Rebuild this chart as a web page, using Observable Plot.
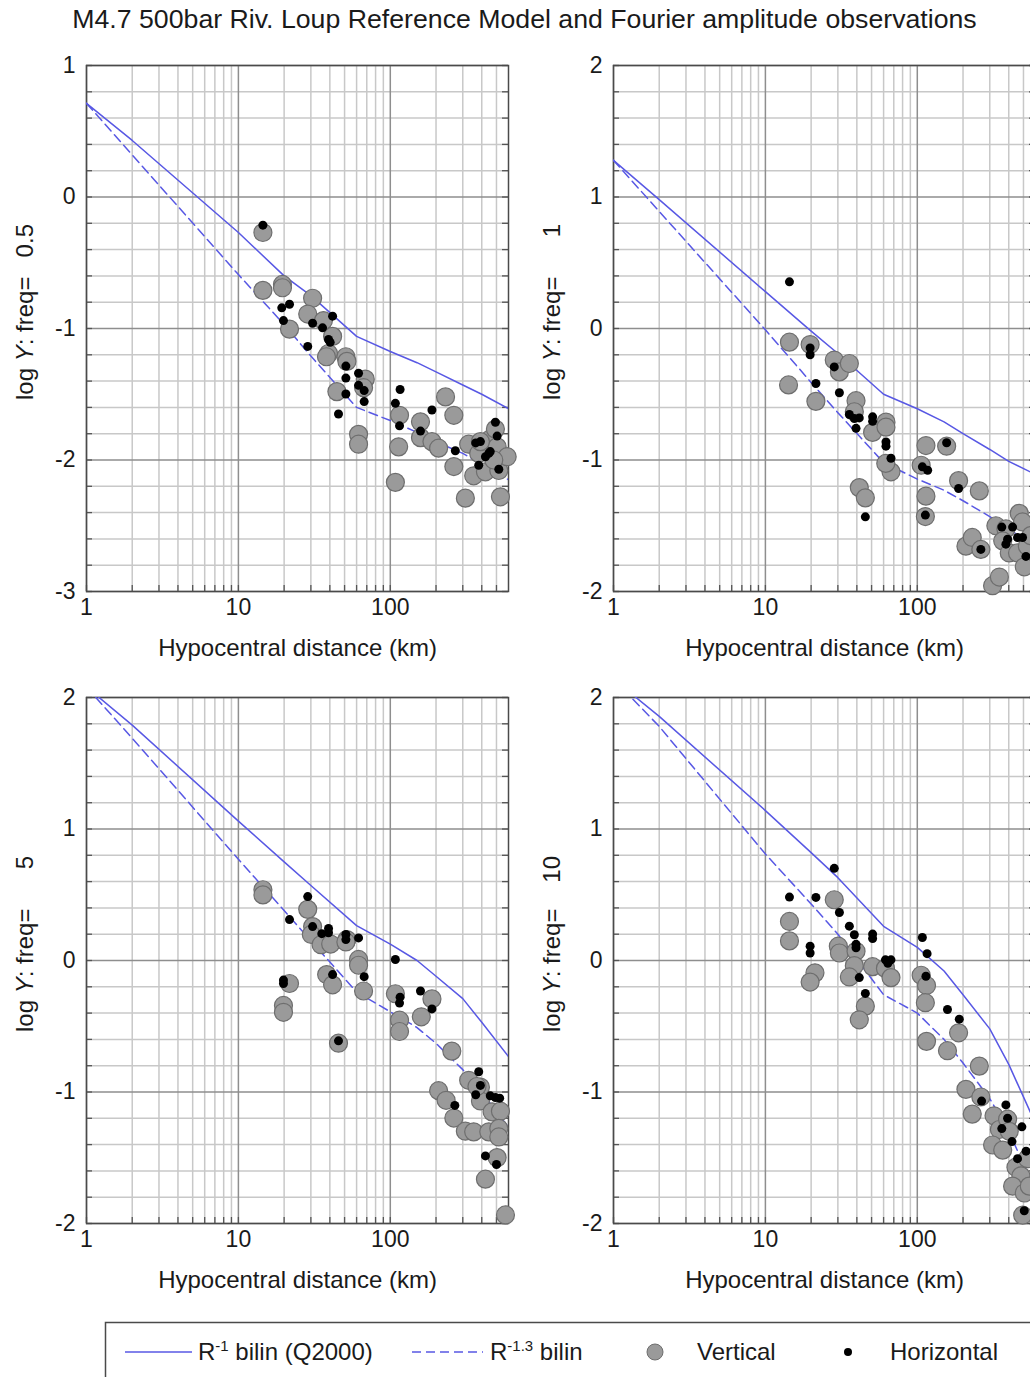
<!DOCTYPE html>
<html><head><meta charset="utf-8">
<script src="https://cdn.jsdelivr.net/npm/d3@7"></script>
<script src="https://cdn.jsdelivr.net/npm/@observablehq/plot@0.6"></script>
<style>
html,body{margin:0;padding:0;background:#fff;}
body{width:1030px;height:1377px;overflow:hidden;position:relative;font-family:"Liberation Sans",Arial,sans-serif;color:#1a1a1a;}
#title{position:absolute;left:0;width:1049px;top:4px;text-align:center;font-size:26.7px;white-space:nowrap;}
.panel{position:absolute;width:527px;height:621px;}
#legend{position:absolute;left:105px;top:1322px;}
</style></head><body>
<div id="title">M4.7 500bar Riv. Loup Reference Model and Fourier amplitude observations</div>
<div id="p1" class="panel" style="left:0;top:45px"></div>
<div id="p2" class="panel" style="left:527px;top:45px"></div>
<div id="p3" class="panel" style="left:0;top:677px"></div>
<div id="p4" class="panel" style="left:527px;top:677px"></div>
<div id="legend"></div>
<script>
// ---------- data ----------
const frequencyLabels = ["0.5", "1", "5", "10"];
const yDomains = [[-3, 1], [-2, 2], [-2, 2], [-2, 2]];
const xMajorTicks = [1, 10, 100];
const xMinorTicks = [2,3,4,5,6,7,8,9,20,30,40,50,60,70,80,90,200,300,400,500];

// model curves (distance km, log Y)
const modelDistance = [1, 2, 10, 20, 30, 60, 100, 150, 200, 300, 400, 600];
const solid_f05  = [0.712, 0.43, -0.27, -0.60, -0.75, -1.06, -1.175, -1.26, -1.33, -1.43, -1.50, -1.61];
const dashed_f05 = [0.712, 0.32, -0.59, -0.97, -1.21, -1.60, -1.70, -1.79, -1.86, -1.95, -2.03, -2.15];
const solid_f1   = [1.279, 0.98, 0.28, -0.02, -0.19, -0.50, -0.61, -0.71, -0.80, -0.92, -1.01, -1.11];
const dashed_f1  = [1.279, 0.89, -0.01, -0.41, -0.64, -1.02, -1.145, -1.23, -1.31, -1.43, -1.53, -1.64];
const solid_f5   = [2.08, 1.79, 1.06, 0.75, 0.57, 0.265, 0.125, 0.0, -0.12, -0.29, -0.47, -0.73];
const dashed_f5  = [2.08, 1.69, 0.77, 0.38, 0.15, -0.24, -0.39, -0.51, -0.63, -0.83, -1.0, -1.27];
const solid_f10  = [2.14, 1.856, 1.14, 0.82, 0.63, 0.26, 0.10, -0.08, -0.26, -0.52, -0.79, -1.24];
const dashed_f10 = [2.14, 1.78, 0.81, 0.43, 0.20, -0.26, -0.40, -0.60, -0.78, -1.05, -1.30, -1.75];

// observations [distance km, log Y]
const vertical_f05 = [[14.5,-0.27],[14.5,-0.71],[19.5,-0.665],[19.5,-0.69],[21.7,-1.005],[30.8,-0.77],[28.6,-0.89],[36.3,-0.94],[41.7,-1.06],[39.2,-1.19],[38,-1.215],[51,-1.215],[51.8,-1.25],[68.4,-1.385],[66.7,-1.45],[44.5,-1.48],[61.8,-1.805],[61.8,-1.88],[115,-1.66],[113.5,-1.90],[108,-2.17],[231,-1.52],[262,-1.66],[158,-1.71],[158,-1.83],[188,-1.86],[208,-1.91],[262,-2.05],[312,-2.29],[328,-1.88],[354,-2.12],[382,-1.95],[423,-2.09],[455,-1.84],[492,-1.765],[505,-1.90],[518,-2.08],[531,-2.28],[588,-1.975],[480,-2.0],[392,-1.86]];
const horizontal_f05 = [[14.5,-0.214],[19.3,-0.843],[21.7,-0.816],[19.8,-0.94],[28.6,-1.136],[30.8,-0.96],[35.8,-0.995],[41.7,-0.906],[39.2,-1.084],[40.2,-1.105],[51,-1.286],[51,-1.377],[51,-1.498],[45.6,-1.65],[61.8,-1.34],[61.8,-1.432],[67.3,-1.472],[67.3,-1.556],[116,-1.464],[108,-1.569],[115,-1.74],[188,-1.62],[158,-1.78],[268,-1.93],[365,-1.87],[392,-1.86],[423,-1.975],[455,-1.936],[492,-1.713],[505,-1.818],[382,-2.04],[518,-2.07],[445,-1.95]];
const vertical_f1 = [[14.4,-0.104],[14.2,-0.429],[19.7,-0.122],[21.5,-0.554],[28.4,-0.24],[30.7,-0.33],[35.7,-0.266],[39.5,-0.549],[38.5,-0.633],[50.8,-0.79],[62.2,-0.712],[62.2,-0.75],[67.1,-1.09],[62,-1.026],[41.5,-1.21],[45.5,-1.288],[114,-0.89],[106,-1.04],[114,-1.275],[113,-1.43],[156,-0.895],[187,-1.157],[256,-1.235],[209,-1.655],[230,-1.589],[262,-1.68],[313,-1.956],[347,-1.89],[329,-1.5],[383,-1.524],[365,-1.615],[403,-1.707],[469,-1.406],[493,-1.471],[457,-1.707],[506,-1.812],[530,-1.655],[560,-1.575]];
const horizontal_f1 = [[14.4,0.355],[19.7,-0.148],[19.7,-0.2],[21.5,-0.418],[28.4,-0.292],[30.7,-0.489],[35.7,-0.654],[38.5,-0.685],[41.5,-0.68],[39.5,-0.759],[50.8,-0.672],[50.8,-0.706],[62.2,-0.863],[62.2,-0.895],[67.1,-0.987],[45.5,-1.432],[108,-1.052],[117,-1.078],[113,-1.419],[156,-0.869],[187,-1.217],[262,-1.68],[360,-1.51],[424,-1.51],[393,-1.602],[383,-1.64],[457,-1.589],[493,-1.589],[519,-1.733]];
const vertical_f5 = [[14.5,0.538],[14.5,0.499],[28.6,0.389],[30.8,0.258],[30.2,0.198],[35,0.12],[40.5,0.125],[51.8,0.159],[51,0.141],[61.8,0.008],[61.8,-0.036],[38.1,-0.107],[41.7,-0.185],[21.7,-0.175],[19.8,-0.342],[19.8,-0.394],[45.6,-0.629],[66.7,-0.232],[108,-0.253],[115,-0.454],[115,-0.54],[160,-0.428],[188,-0.292],[254,-0.689],[208,-0.99],[233,-1.063],[262,-1.198],[312,-1.298],[354,-1.303],[328,-0.911],[392,-0.963],[392,-1.068],[468,-1.151],[531,-1.146],[445,-1.303],[518,-1.277],[518,-1.342],[505,-1.499],[423,-1.663],[573,-1.935],[372,-0.958]];
const horizontal_f5 = [[28.6,0.486],[21.7,0.311],[30.8,0.258],[35.4,0.204],[39.2,0.243],[39.2,0.211],[51,0.198],[51,0.159],[61.8,0.172],[19.8,-0.149],[19.8,-0.175],[41.7,-0.107],[67.3,-0.123],[45.6,-0.611],[108,0.008],[116,-0.279],[115,-0.324],[158,-0.232],[188,-0.368],[266,-1.102],[382,-0.846],[392,-0.95],[365,-1.021],[455,-1.029],[492,-1.042],[525,-1.047],[423,-1.486],[500,-1.551]];
const vertical_f10 = [[14.4,0.297],[14.4,0.149],[21.2,-0.094],[19.7,-0.164],[28.4,0.462],[30.2,0.109],[30.7,0.057],[39.5,0.07],[38.5,-0.039],[35.7,-0.125],[50.8,-0.047],[61.7,-0.06],[67.1,-0.13],[45.5,-0.347],[41.5,-0.451],[106,-0.112],[115,-0.19],[113,-0.321],[115,-0.615],[158,-0.686],[187,-0.55],[256,-0.803],[209,-0.98],[230,-1.168],[262,-1.038],[320,-1.181],[347,-1.285],[313,-1.403],[365,-1.442],[393,-1.207],[403,-1.299],[446,-1.572],[481,-1.638],[424,-1.716],[506,-1.768],[494,-1.937],[530,-1.507],[546,-1.716]];
const horizontal_f10 = [[14.4,0.482],[21.5,0.48],[28.4,0.701],[30.7,0.365],[35.7,0.261],[38.5,0.196],[39.5,0.123],[39.5,0.097],[19.7,0.109],[19.7,0.057],[50.8,0.201],[50.8,0.167],[61.7,0.005],[67.1,0.005],[64,-0.021],[41.5,-0.13],[45.5,-0.25],[108,0.175],[116,0.052],[114,-0.12],[158,-0.373],[189,-0.446],[265,-1.069],[383,-1.098],[393,-1.2],[360,-1.278],[420,-1.377],[488,-1.265],[520,-1.45],[457,-1.507],[506,-1.903]];

const solidCurves = [solid_f05, solid_f1, solid_f5, solid_f10];
const dashedCurves = [dashed_f05, dashed_f1, dashed_f5, dashed_f10];
const verticalObs = [vertical_f05, vertical_f1, vertical_f5, vertical_f10];
const horizontalObs = [horizontal_f05, horizontal_f1, horizontal_f5, horizontal_f10];

// ---------- drawing ----------
const BLUE = "#5858e4";
const FONT = "Liberation Sans, Arial, sans-serif";
const W = 527, H = 621, ML = 86, MR = 19, MT = 20, MB = 75;
const FW = W - ML - MR, FH = H - MT - MB;

function makePanel(i) {
  const [ylo, yhi] = yDomains[i];
  const yAll = d3.range(ylo, yhi + 1e-9, 0.2);
  const yMajor = d3.range(ylo, yhi + 1e-9, 1);
  const yMinor = yAll.filter(v => Math.abs(v - Math.round(v)) > 1e-6);
  const xAll = xMajorTicks.concat(xMinorTicks);
  const solid = modelDistance.map((r, k) => ({r, v: solidCurves[i][k]}));
  const dashed = modelDistance.map((r, k) => ({r, v: dashedCurves[i][k]}));

  const plot = Plot.plot({
    width: W, height: H, marginLeft: ML, marginRight: MR, marginTop: MT, marginBottom: MB,
    x: {type: "log", domain: [1, 600]},
    y: {domain: [ylo, yhi]},
    style: {fontFamily: FONT, fontSize: "23px", color: "#1a1a1a", background: "transparent", maxWidth: "none", overflow: "visible"},
    marks: [
      Plot.gridX(xMinorTicks, {stroke: "#c8c8c8", strokeOpacity: 1, strokeWidth: 1.5}),
      Plot.gridY(yMinor, {stroke: "#c8c8c8", strokeOpacity: 1, strokeWidth: 1.5}),
      Plot.gridX(xMajorTicks, {stroke: "#8e8e8e", strokeOpacity: 1, strokeWidth: 1.5}),
      Plot.gridY(yMajor, {stroke: "#8e8e8e", strokeOpacity: 1, strokeWidth: 1.5}),
      Plot.tickY(yAll, {y: d => d, stroke: "#555", strokeWidth: 1.3, insetRight: FW - 6}),
      Plot.tickY(yAll, {y: d => d, stroke: "#555", strokeWidth: 1.3, insetLeft: FW - 6}),
      Plot.tickX(xAll, {x: d => d, stroke: "#555", strokeWidth: 1.3, insetTop: FH - 6}),
      Plot.frame({stroke: "#4a4a4a", strokeWidth: 1.5}),
      Plot.axisY(yMajor, {tickSize: 0, tickPadding: 11, tickFormat: d => String(d), label: null, fontSize: 23}),
      Plot.axisX(xMajorTicks, {tickSize: 0, tickPadding: 7, tickFormat: d => String(d), label: null, fontSize: 23}),
      Plot.text(["Hypocentral distance (km)"], {frameAnchor: "bottom", dy: 57, lineAnchor: "middle", fontSize: 24, fill: "#1a1a1a"}),
      Plot.line(solid, {x: "r", y: "v", stroke: BLUE, strokeWidth: 1.5, clip: true}),
      Plot.line(dashed, {x: "r", y: "v", stroke: BLUE, strokeWidth: 1.5, strokeDasharray: "9,5", clip: true}),
      Plot.dot(verticalObs[i], {x: d => d[0], y: d => d[1], r: 9, fill: "#9a9a9a", stroke: "#6e6e6e", strokeWidth: 1.2}),
      Plot.dot(horizontalObs[i], {x: d => d[0], y: d => d[1], r: 4.5, fill: "#000", stroke: "none"})
    ]
  });
  const svg = d3.select(plot);
  const lab = svg.append("text")
    .attr("transform", `translate(33,${400 - 45}) rotate(-90)`)
    .attr("text-anchor", "start")
    .attr("font-family", FONT).attr("font-size", 24).attr("fill", "#1a1a1a");
  lab.append("tspan").text("log ");
  lab.append("tspan").attr("font-style", "italic").text("Y");
  lab.append("tspan").text(": freq=");
  svg.append("text")
    .attr("transform", `translate(33,${224 - 45}) rotate(-90)`)
    .attr("text-anchor", "end")
    .attr("font-family", FONT).attr("font-size", 24).attr("fill", "#1a1a1a")
    .text(frequencyLabels[i]);
  document.getElementById("p" + (i + 1)).appendChild(plot);
}
[0, 1, 2, 3].forEach(makePanel);

// ---------- legend ----------
const lg = d3.select("#legend").append("svg").attr("width", 1000).attr("height", 60)
  .style("overflow", "visible").attr("font-family", FONT).attr("font-size", 24).attr("fill", "#1a1a1a");
lg.append("rect").attr("x", 0.5).attr("y", 0.5).attr("width", 1000).attr("height", 90)
  .attr("fill", "none").attr("stroke", "#4a4a4a").attr("stroke-width", 1.5);
const cy = 30;
lg.append("line").attr("x1", 20).attr("x2", 87).attr("y1", cy).attr("y2", cy).attr("stroke", BLUE).attr("stroke-width", 1.5);
const t1 = lg.append("text").attr("x", 93).attr("y", cy + 8);
t1.append("tspan").text("R");
t1.append("tspan").attr("dy", -9).attr("font-size", 15).text("-1");
t1.append("tspan").attr("dy", 9).text(" bilin (Q2000)");
lg.append("line").attr("x1", 307).attr("x2", 378).attr("y1", cy).attr("y2", cy).attr("stroke", BLUE).attr("stroke-width", 1.5).attr("stroke-dasharray", "9,5");
const t2 = lg.append("text").attr("x", 385).attr("y", cy + 8);
t2.append("tspan").text("R");
t2.append("tspan").attr("dy", -9).attr("font-size", 15).text("-1.3");
t2.append("tspan").attr("dy", 9).text(" bilin");
lg.append("circle").attr("cx", 550).attr("cy", cy).attr("r", 8).attr("fill", "#9a9a9a").attr("stroke", "#6e6e6e");
lg.append("text").attr("x", 592).attr("y", cy + 8).text("Vertical");
lg.append("circle").attr("cx", 743).attr("cy", cy).attr("r", 4).attr("fill", "#000");
lg.append("text").attr("x", 785).attr("y", cy + 8).text("Horizontal");
</script>
</body></html>
